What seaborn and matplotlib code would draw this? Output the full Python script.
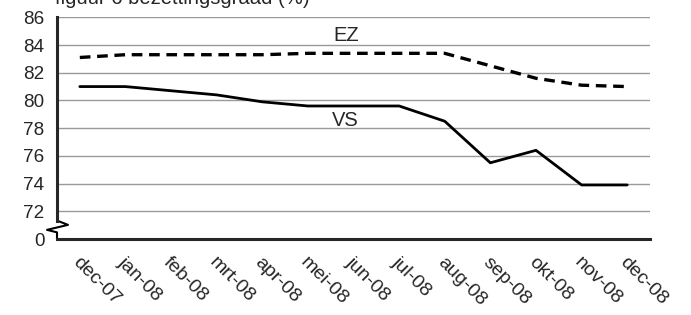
import matplotlib
matplotlib.use("Agg")
import numpy as np
import pandas as pd
import seaborn as sns
import matplotlib.pyplot as plt
import matplotlib.transforms as mtransforms

# ---- data ----
months = ["dec-07", "jan-08", "feb-08", "mrt-08", "apr-08", "mei-08", "jun-08",
          "jul-08", "aug-08", "sep-08", "okt-08", "nov-08", "dec-08"]
ez = [83.1, 83.3, 83.3, 83.3, 83.3, 83.4, 83.4, 83.4, 83.4, 82.5, 81.6, 81.1, 81.0]
vs = [81.0, 81.0, 80.7, 80.4, 79.9, 79.6, 79.6, 79.6, 78.5, 75.5, 76.4, 73.9, 73.9]
series_names = ["EZ", "VS"]
y_ticks = [70, 72, 74, 76, 78, 80, 82, 84, 86]
y_tick_labels = ["0", "72", "74", "76", "78", "80", "82", "84", "86"]
title = "figuur 6 bezettingsgraad (%)"

sns.set_style("white")
plt.rcParams["font.family"] = ["Liberation Sans", "DejaVu Sans"]

fig = plt.figure(figsize=(6.91, 3.15), dpi=100)
ax = fig.add_axes([57 / 691, 1 - 239 / 315, 593 / 691, (239 - 17.3) / 315])

n = len(months)
df = pd.DataFrame({
    "pos": list(range(n)) * 2,
    "value": ez + vs,
    "serie": [series_names[0]] * n + [series_names[1]] * n,
})

sns.lineplot(data=df, x="pos", y="value", style="serie",
             dashes={"EZ": (3.2, 2.0), "VS": ""}, color="black",
             linewidth=2.0, legend=False, ax=ax, sort=False)
for ln in ax.lines:
    if ln.get_linestyle() not in ("-", "solid"):
        ln.set_linewidth(2.4)

ax.set_xlim(-0.5, n - 0.5)
ax.set_ylim(70, 86)

# y axis
ax.set_yticks(y_ticks)
ax.set_yticklabels(y_tick_labels, fontsize=13.6)
ax.tick_params(axis="y", direction="inout", length=10, width=1.5, pad=4, color="black")
for yv in y_ticks[1:]:
    ax.axhline(yv, color="#999999", lw=1.0, zorder=0)

# x axis: labels at category centres, ticks at boundaries
ax.set_xticks(range(n))
ax.set_xticklabels(months, fontsize=14, rotation=-45, ha="left", va="center",
                   rotation_mode="anchor")
ax.tick_params(axis="x", which="major", length=0, pad=15)
shift = mtransforms.ScaledTranslation(-5 / 100, 0, fig.dpi_scale_trans)
for lbl in ax.get_xticklabels():
    lbl.set_transform(lbl.get_transform() + shift)
ax.set_xticks(np.arange(-0.5, n, 1.0), minor=True)
ax.tick_params(axis="x", which="minor", direction="inout", length=10, width=1.5, color="black")
ax.set_xlabel("")
ax.set_ylabel("")

for s in ["top", "right"]:
    ax.spines[s].set_visible(False)
ax.spines["bottom"].set_linewidth(2.2)
ax.spines["left"].set_linewidth(2.2)
ax.spines["left"].set_bounds(71.33, 86)

# axis break zigzag
tr = mtransforms.blended_transform_factory(ax.transAxes, ax.transData)
zx = [0, 11 / 593, -10 / 593, 0, 0]
zy = [71.33, 71.02, 70.66, 70.48, 70.0]
ax.plot(zx, zy, color="black", lw=1.5, transform=tr, clip_on=False)

ax.text(5.83, 84.3, "EZ", fontsize=14.5, ha="center", va="baseline")
ax.text(5.83, 78.15, "VS", fontsize=14.5, ha="center", va="baseline")

fig.text(55 / 691, 1 - 4 / 315, title, fontsize=14.6, ha="left", va="baseline")

fig.savefig("out.png", dpi=100)
